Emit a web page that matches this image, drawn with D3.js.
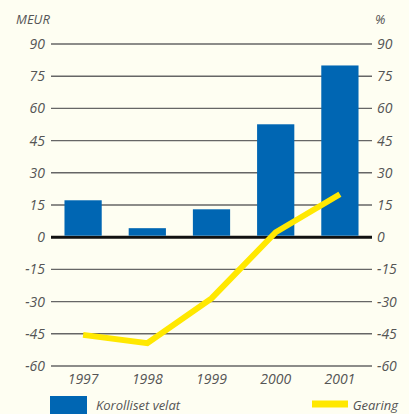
<!DOCTYPE html>
<html>
<head>
<meta charset="utf-8">
<script src="https://cdn.jsdelivr.net/npm/d3@7"></script>
<style>
  body { margin: 0; background: #fefef2; }
  text { font-family: "Open Sans", sans-serif; font-style: italic; fill: #555; }
</style>
</head>
<body>
<div id="chart"></div>
<script>
// chart data
var years = ["1997", "1998", "1999", "2000", "2001"];
var debt = [17.2, 4.2, 13, 52.6, 80];        // Korolliset velat, MEUR
var gearing = [-45.5, -49.4, -28.5, 2.3, 20]; // Gearing, %
var ticks = [90, 75, 60, 45, 30, 15, 0, -15, -30, -45, -60];

var svgWidth = 409, svgHeight = 414;
var margin = { top: 44, right: 37, bottom: 48, left: 51 };
var width = svgWidth - margin.left - margin.right;
var height = svgHeight - margin.top - margin.bottom;

var svg = d3.select("#chart").append("svg")
  .attr("width", svgWidth)
  .attr("height", svgHeight);

var g = svg.append("g")
  .attr("transform", `translate(${margin.left}, ${margin.top})`);

var x = d3.scaleBand().domain(years).range([0, width]).paddingInner(0.42).paddingOuter(0.21);
var y = d3.scaleLinear().domain([-60, 90]).range([height, 0]);

// gridlines
g.selectAll(".grid").data(ticks).enter().append("line")
  .attr("x1", 0).attr("x2", width)
  .attr("y1", d => y(d)).attr("y2", d => y(d))
  .attr("stroke", d => d === 0 ? "#111" : "#666")
  .attr("stroke-width", d => d === 0 ? 3 : 1.4);

// left and right axis labels
var leftAxis = d3.axisLeft(y).tickValues(ticks).tickSize(0).tickPadding(6);
var rightAxis = d3.axisRight(y).tickValues(ticks).tickSize(0).tickPadding(5);
var la = g.append("g").call(leftAxis);
var ra = g.append("g").attr("transform", `translate(${width},0)`).call(rightAxis);
[la, ra].forEach(function(a) {
  a.select(".domain").remove();
  a.selectAll("text").style("font-size", "14px").attr("fill", "#555")
    .text(d => String(d).replace("-", "-"));
});

// bars
g.selectAll(".bar").data(debt).enter().append("rect")
  .attr("x", (d, i) => x(years[i]))
  .attr("width", x.bandwidth())
  .attr("y", d => y(d))
  .attr("height", d => y(0) - y(d) - 1.5)
  .attr("fill", "#0066b3");

// gearing line
var line = d3.line()
  .x((d, i) => x(years[i]) + x.bandwidth() / 2)
  .y(d => y(d));
g.append("path").datum(gearing)
  .attr("d", line)
  .attr("fill", "none")
  .attr("stroke", "#ffe800")
  .attr("stroke-width", 6);

// year labels
var bottomAxis = d3.axisBottom(x).tickSize(0).tickPadding(8);
var ba = g.append("g").attr("transform", `translate(0,${height})`).call(bottomAxis);
ba.select(".domain").remove();
ba.selectAll("text").style("font-size", "14px").attr("fill", "#555");

// unit labels
svg.append("text").attr("x", 16).attr("y", 24).style("font-size", "13px").text("MEUR");
svg.append("text").attr("x", 375).attr("y", 24).style("font-size", "13px").text("%");

// legend
svg.append("rect").attr("x", 50).attr("y", 396).attr("width", 37).attr("height", 18).attr("fill", "#0066b3");
svg.append("text").attr("x", 96).attr("y", 410).style("font-size", "13px").text("Korolliset velat");
svg.append("line").attr("x1", 312).attr("x2", 348).attr("y1", 404).attr("y2", 404)
  .attr("stroke", "#ffe800").attr("stroke-width", 7);
svg.append("text").attr("x", 398).attr("y", 410).attr("text-anchor", "end").style("font-size", "13px").text("Gearing");
</script>
</body>
</html>
